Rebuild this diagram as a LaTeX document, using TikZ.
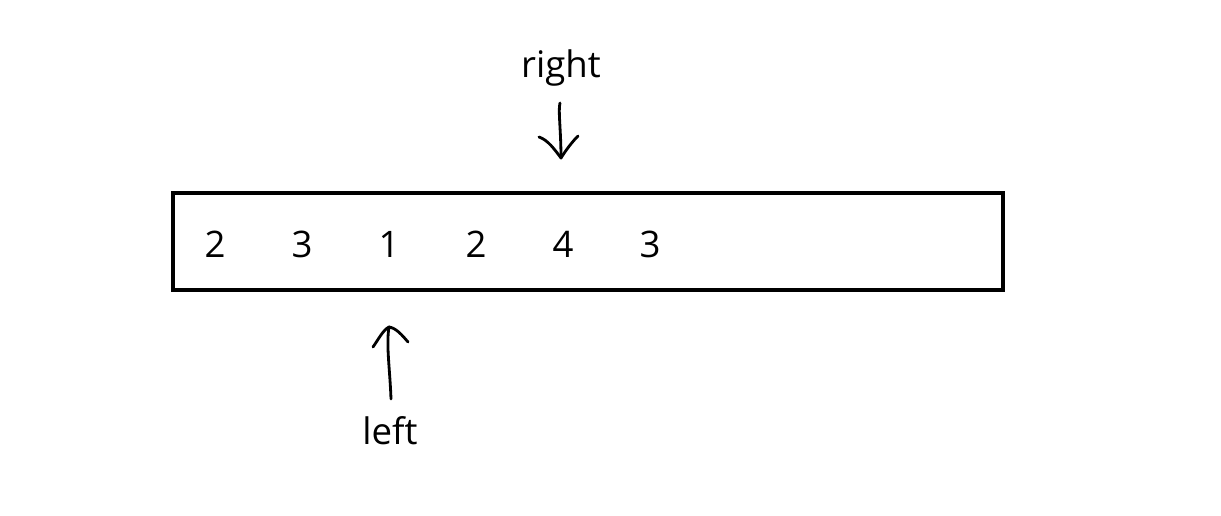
\documentclass[tikz,border=0pt]{standalone}
\usepackage{fontspec}
\setmainfont{Open Sans}
\begin{document}
\begin{tikzpicture}[x=0.01cm,y=-0.01cm,
  lbl/.style={inner sep=0pt,font=\fontsize{10.4}{12}\selectfont},
  num/.style={inner sep=0pt,font=\fontsize{10.4}{12}\selectfont},
  pen/.style={line width=0.8pt,line cap=round,line join=round}]
\useasboundingbox (0,0) rectangle (1221,516);
\node[draw,line width=1.3pt,minimum width=830*0.01cm,minimum height=97*0.01cm,inner sep=0pt] (box) at (588,241.5) {};
\foreach \x/\v [count=\i] in {215/2,302/3,389/1,476/2,563/4,650/3}
  \node[num] (n\i) at (\x,244) {\v};
\node[lbl,anchor=base] (right) at (561,78) {right};
\node[lbl,anchor=base] (left) at (390,445) {left};
\coordinate (rtop) at (560,103);
\coordinate (rtip) at (561,158);
\coordinate (ltop) at (389,327);
\coordinate (lbot) at (391,399);
% down arrow (right)
\draw[pen] (rtop) .. controls (558,110) and (561,130) .. (rtip);
\draw[pen] (539,137) .. controls (548,140) and (555,150) .. (rtip) .. controls (566,150) and (572,142) .. (578,136);
% up arrow (left)
\draw[pen] (lbot) .. controls (390,370) and (386,345) .. (ltop);
\draw[pen] (373,347) .. controls (378,340) and (383,330) .. (ltop) .. controls (396,328) and (402,335) .. (408,342);
\end{tikzpicture}
\end{document}
